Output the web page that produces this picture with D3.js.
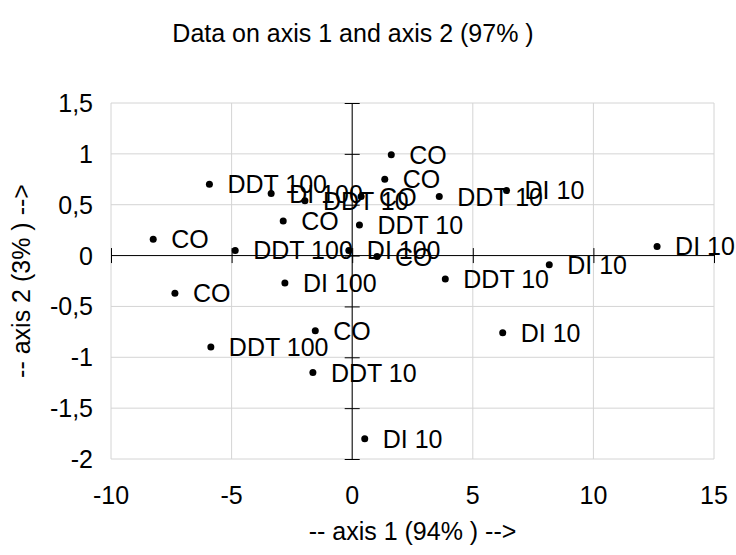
<!DOCTYPE html>
<html>
<head>
<meta charset="utf-8">
<script src="https://cdn.jsdelivr.net/npm/d3@7"></script>
<style>
  body { margin: 0; background: #fff; }
  svg { display: block; font-family: "Liberation Sans", Arial, sans-serif; }
</style>
</head>
<body>
<div id="chart"></div>
<script>
// point labels and coordinates on the two factor axes
const labels = ["CO", "CO", "CO", "CO", "CO", "CO", "CO", "CO",
  "DDT 100", "DDT 100", "DDT 100",
  "DI 100", "DI 100", "DI 100",
  "DDT 10", "DDT 10", "DDT 10", "DDT 10", "DDT 10",
  "DI 10", "DI 10", "DI 10", "DI 10", "DI 10"];
const axis1 = [1.62, 1.35, 0.37, -2.86, -8.25, 1.03, -7.35, -1.53,
  -5.92, -4.85, -5.86,
  -3.36, -0.14, -2.79,
  -1.96, 3.61, 0.30, 3.86, -1.63,
  6.40, 12.64, 8.17, 6.24, 0.52];
const axis2 = [0.99, 0.75, 0.58, 0.34, 0.16, -0.01, -0.37, -0.74,
  0.70, 0.05, -0.90,
  0.61, 0.05, -0.27,
  0.54, 0.58, 0.30, -0.23, -1.15,
  0.64, 0.09, -0.09, -0.76, -1.80];
const xTicks = [-10, -5, 0, 5, 10, 15];
const yTicks = [-2, -1.5, -1, -0.5, 0, 0.5, 1, 1.5];

const width = 736, height = 555;
const margin = {top: 103, right: 22, bottom: 96, left: 111};
const fontSize = 25;

const svg = d3.select("#chart").append("svg")
  .attr("width", width)
  .attr("height", height);

const x = d3.scaleLinear().domain([-10, 15]).range([margin.left, width - margin.right]);
const y = d3.scaleLinear().domain([-2, 1.5]).range([height - margin.bottom, margin.top]);

const fmt = d => String(d).replace(".", ",");

// grid
svg.append("g")
  .selectAll("line")
  .data(xTicks)
  .join("line")
    .attr("x1", d => x(d)).attr("x2", d => x(d))
    .attr("y1", y(-2)).attr("y2", y(1.5))
    .attr("stroke", "#d4d4d4")
    .attr("stroke-width", 1);

svg.append("g")
  .selectAll("line")
  .data(yTicks)
  .join("line")
    .attr("x1", x(-10)).attr("x2", x(15))
    .attr("y1", d => y(d)).attr("y2", d => y(d))
    .attr("stroke", "#d4d4d4")
    .attr("stroke-width", 1);

// axes through the origin
const xAxis = d3.axisBottom(x).tickValues(xTicks).tickSize(15).tickFormat("");
const yAxis = d3.axisLeft(y).tickValues(yTicks).tickSize(15).tickFormat("");

svg.append("g")
  .attr("transform", `translate(0,${y(0) - 7.5})`)
  .call(xAxis)
  .call(g => g.select(".domain").attr("d", `M${x(-10)},7.5H${x(15)}`))
  .call(g => g.selectAll("line").attr("stroke", "#000"));

svg.append("g")
  .attr("transform", `translate(${x(0) + 7.5},0)`)
  .call(yAxis)
  .call(g => g.select(".domain").attr("d", `M-7.5,${y(-2)}V${y(1.5)}`))
  .call(g => g.selectAll("line").attr("stroke", "#000"));

// tick labels at the frame edges
svg.append("g")
  .selectAll("text")
  .data(xTicks)
  .join("text")
    .attr("x", d => x(d))
    .attr("y", y(-2) + 45)
    .attr("text-anchor", "middle")
    .attr("font-size", fontSize)
    .text(d => fmt(d));

svg.append("g")
  .selectAll("text")
  .data(yTicks)
  .join("text")
    .attr("x", x(-10) - 18)
    .attr("y", d => y(d))
    .attr("dy", "0.36em")
    .attr("text-anchor", "end")
    .attr("font-size", fontSize)
    .text(d => fmt(d));

// points and labels
const pts = labels.map((l, i) => ({label: l, a: axis1[i], b: axis2[i]}));

const pt = svg.append("g")
  .selectAll("g")
  .data(pts)
  .join("g")
    .attr("transform", d => `translate(${x(d.a)},${y(d.b)})`);

pt.append("circle")
  .attr("r", 3.5)
  .attr("fill", "#000");

pt.append("text")
  .attr("x", 18)
  .attr("dy", "0.36em")
  .attr("font-size", fontSize)
  .text(d => d.label);

// titles
svg.append("text")
  .attr("x", 353)
  .attr("y", 42)
  .attr("text-anchor", "middle")
  .attr("font-size", fontSize)
  .text("Data on axis 1 and axis 2 (97% )");

svg.append("text")
  .attr("x", (x(-10) + x(15)) / 2)
  .attr("y", 540)
  .attr("text-anchor", "middle")
  .attr("font-size", fontSize)
  .text("-- axis 1 (94% ) -->");

svg.append("text")
  .attr("transform", `translate(30,${(y(-2) + y(1.5)) / 2}) rotate(-90)`)
  .attr("text-anchor", "middle")
  .attr("font-size", fontSize)
  .text("-- axis 2 (3% ) -->");
</script>
</body>
</html>
